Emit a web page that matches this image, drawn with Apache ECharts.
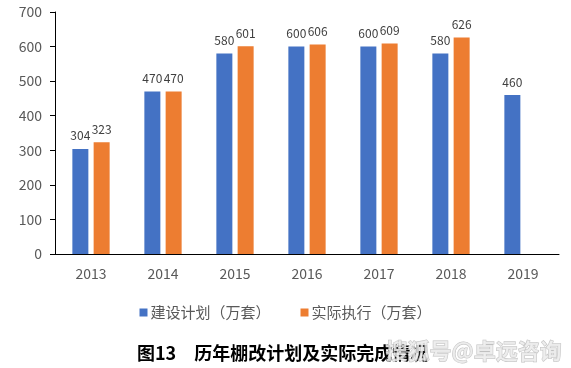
<!DOCTYPE html>
<html><head><meta charset="utf-8">
<script src="https://cdn.jsdelivr.net/npm/echarts@6/dist/echarts.min.js"></script>
<style>html,body{margin:0;padding:0;background:#fff}#c{width:571px;height:368px}</style>
</head><body><div id="c"></div>
<script>
const categories = ['2013','2014','2015','2016','2017','2018','2019'];
const planValues = [304, 470, 580, 600, 600, 580, 460];
const actualValues = [323, 470, 601, 606, 609, 626, null];
const yTicks = [0,100,200,300,400,500,600,700];
const seriesNames = ['建设计划（万套）','实际执行（万套）'];
const titleText = '图13　历年棚改计划及实际完成情况';
const watermarkText = '搜狐号@卓远咨询';

const chart = echarts.init(document.getElementById('c'));
const lbl = {show:true, position:'top', distance:7, color:'#404040', fontSize:12, fontFamily:'"Noto Sans CJK SC", sans-serif'};
chart.setOption({
  animation:false,
  textStyle:{fontFamily:'"Noto Sans CJK SC", sans-serif'},
  grid:{left:55, right:12, top:12, bottom:114},
  legend:{
    data:seriesNames, top:300, left:'center', itemWidth:8, itemHeight:8, itemGap:30,
    icon:'rect', textStyle:{fontSize:15, color:'#595959', padding:[0,0,0,-2]}
  },
  xAxis:{
    type:'category', data:categories,
    axisLine:{lineStyle:{color:'#000'}}, axisTick:{show:false},
    axisLabel:{color:'#595959', fontSize:14, margin:13}
  },
  yAxis:{
    type:'value', min:yTicks[0], max:yTicks[yTicks.length-1], interval:100,
    axisLine:{show:true, lineStyle:{color:'#000'}}, axisTick:{show:true, length:5, lineStyle:{color:'#000'}},
    splitLine:{show:false},
    axisLabel:{color:'#595959', fontSize:14, margin:13}
  },
  series:[
    {name:seriesNames[0], type:'bar', data:planValues, barWidth:16, barGap:'33%', itemStyle:{color:'#4472C4'}, label:lbl},
    {name:seriesNames[1], type:'bar', data:actualValues, barWidth:16, itemStyle:{color:'#ED7D31'}, label:lbl}
  ],
  graphic:[
    {type:'text', left:137, top:344, style:{text:titleText, fill:'#000', font:'bold 18px "Noto Sans CJK SC"'}},
    {type:'text', left:385, top:339, style:{text:watermarkText, font:'bold 22px "Noto Sans CJK SC"', fill:'rgba(235,235,235,0.85)', stroke:'rgba(150,150,150,0.6)', lineWidth:1}}
  ]
});
</script></body></html>
